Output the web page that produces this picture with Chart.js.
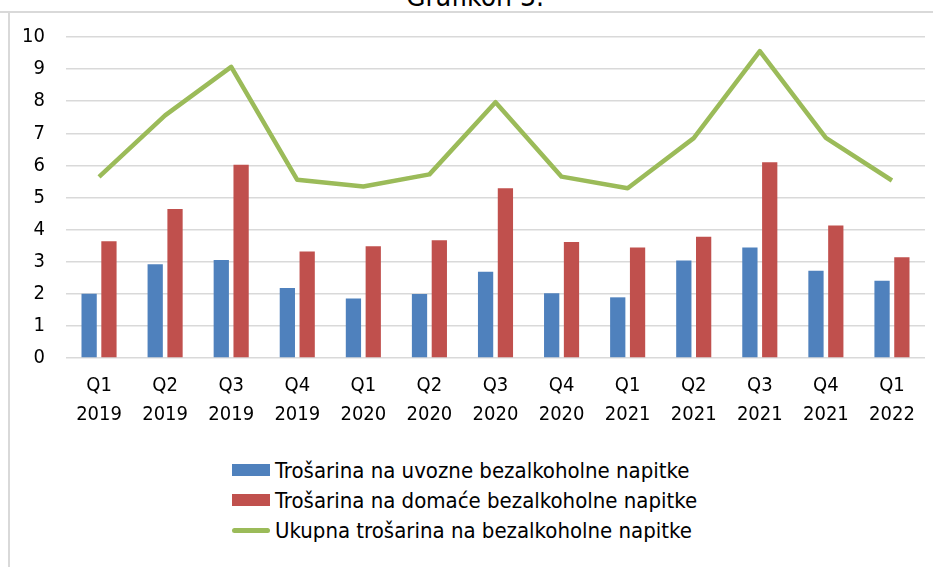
<!DOCTYPE html>
<html>
<head>
<meta charset="utf-8">
<title>Grafikon 3.</title>
<script src="https://cdn.jsdelivr.net/npm/chart.js@4"></script>
<style>
    html, body {
        margin: 0;
        padding: 0;
        background: #fff;
    }
    #okvir {
        position: relative;
        width: 933px;
        height: 567px;
        overflow: hidden;
        font-family: "DejaVu Sans Condensed", "DejaVu Sans", Verdana, sans-serif;
        color: #000;
    }
    #naslov {
        position: absolute;
        left: 0;
        width: 950px;
        top: -14px;
        line-height: 22px;
        font-size: 28px;
        text-align: center;
    }
    #linija-gore {
        position: absolute;
        left: 0;
        top: 11px;
        width: 933px;
        height: 2px;
        background: #d9d9d9;
    }
    #linija-lijevo {
        position: absolute;
        left: 8px;
        top: 12px;
        width: 2px;
        height: 560px;
        background: #d9d9d9;
    }
    #grafikon {
        position: absolute;
        left: 0;
        top: 0;
    }
    #legenda {
        position: absolute;
        left: 232px;
        top: 455px;
        font-size: 22px;
    }
    .stavka {
        display: flex;
        align-items: center;
        height: 30px;
    }
    .znak {
        width: 38px;
        margin-right: 5px;
    }
</style>
</head>
<body>
<div id="okvir">
    <div id="naslov">Grafikon 3.</div>
    <div id="linija-gore"></div>
    <div id="linija-lijevo"></div>
    <canvas id="grafikon" width="933" height="440"></canvas>
    <div id="legenda"></div>
</div>

<script>
const kvartali = [
    ['Q1', '2019'], ['Q2', '2019'], ['Q3', '2019'], ['Q4', '2019'],
    ['Q1', '2020'], ['Q2', '2020'], ['Q3', '2020'], ['Q4', '2020'],
    ['Q1', '2021'], ['Q2', '2021'], ['Q3', '2021'], ['Q4', '2021'],
    ['Q1', '2022']
];

// trošarina na uvozne i domaće bezalkoholne napitke, te ukupno
const uvozne = [2.00, 2.92, 3.05, 2.18, 1.85, 1.99, 2.69, 2.02, 1.89, 3.04, 3.44, 2.72, 2.41];
const domace = [3.64, 4.64, 6.02, 3.32, 3.48, 3.67, 5.29, 3.61, 3.44, 3.78, 6.10, 4.13, 3.14];
const ukupna = [5.64, 7.56, 9.07, 5.55, 5.34, 5.72, 7.97, 5.65, 5.29, 6.85, 9.56, 6.86, 5.53];

const yTicks = [0, 1, 2, 3, 4, 5, 6, 7, 8, 9, 10];

const boje = {
    uvozne: '#4f81bd',
    domace: '#c0504d',
    ukupna: '#9bbb59'
};

const font = { family: '"DejaVu Sans Condensed", "DejaVu Sans", Verdana, sans-serif', size: 20 };

const ctx = document.getElementById('grafikon').getContext('2d');

const grafikon = new Chart(ctx, {
    type: 'bar',
    data: {
        labels: kvartali,
        datasets: [
            {
                type: 'line',
                label: 'Ukupna trošarina na bezalkoholne napitke',
                data: ukupna,
                borderColor: boje.ukupna,
                backgroundColor: boje.ukupna,
                borderWidth: 4.5,
                pointRadius: 0,
                tension: 0,
                borderJoinStyle: 'round',
                order: 0
            },
            {
                label: 'Trošarina na uvozne bezalkoholne napitke',
                data: uvozne,
                backgroundColor: boje.uvozne,
                order: 1
            },
            {
                label: 'Trošarina na domaće bezalkoholne napitke',
                data: domace,
                backgroundColor: boje.domace,
                order: 1
            }
        ]
    },
    options: {
        responsive: false,
        animation: false,
        categoryPercentage: 0.6,
        barPercentage: 0.77,
        layout: {
            padding: { top: 37, right: 8, bottom: 0, left: 0 }
        },
        plugins: {
            legend: { display: false },
            tooltip: { enabled: false }
        },
        scales: {
            x: {
                grid: { display: false },
                border: { display: false },
                ticks: {
                    color: '#000',
                    font: Object.assign({ lineHeight: 1.45 }, font),
                    padding: 5,
                    maxRotation: 0,
                    autoSkip: false
                },
                afterFit: (scale) => { scale.height = 82; }
            },
            y: {
                min: 0,
                max: 10,
                afterBuildTicks: (scale) => {
                    scale.ticks = yTicks.map(v => ({ value: v }));
                },
                grid: {
                    color: '#d9d9d9',
                    lineWidth: 1.6,
                    drawTicks: false
                },
                border: { display: false },
                ticks: {
                    color: '#000',
                    font: font,
                    padding: 21
                },
                afterFit: (scale) => { scale.width = 66; }
            }
        }
    }
});

// legenda ispod grafikona, stavke jedna ispod druge
function napraviLegendu() {
    const legenda = document.getElementById('legenda');
    const redoslijed = [1, 2, 0];
    legenda.innerHTML = '';
    redoslijed.forEach(i => {
        const ds = grafikon.data.datasets[i];
        const stavka = document.createElement('div');
        stavka.className = 'stavka';
        const znak = document.createElement('span');
        znak.className = 'znak';
        if (ds.type === 'line') {
            znak.style.height = '5px';
            znak.style.borderRadius = '3px';
        } else {
            znak.style.height = '12px';
        }
        znak.style.background = ds.backgroundColor;
        const tekst = document.createElement('span');
        tekst.textContent = ds.label;
        stavka.appendChild(znak);
        stavka.appendChild(tekst);
        legenda.appendChild(stavka);
    });
}

napraviLegendu();
</script>
</body>
</html>
